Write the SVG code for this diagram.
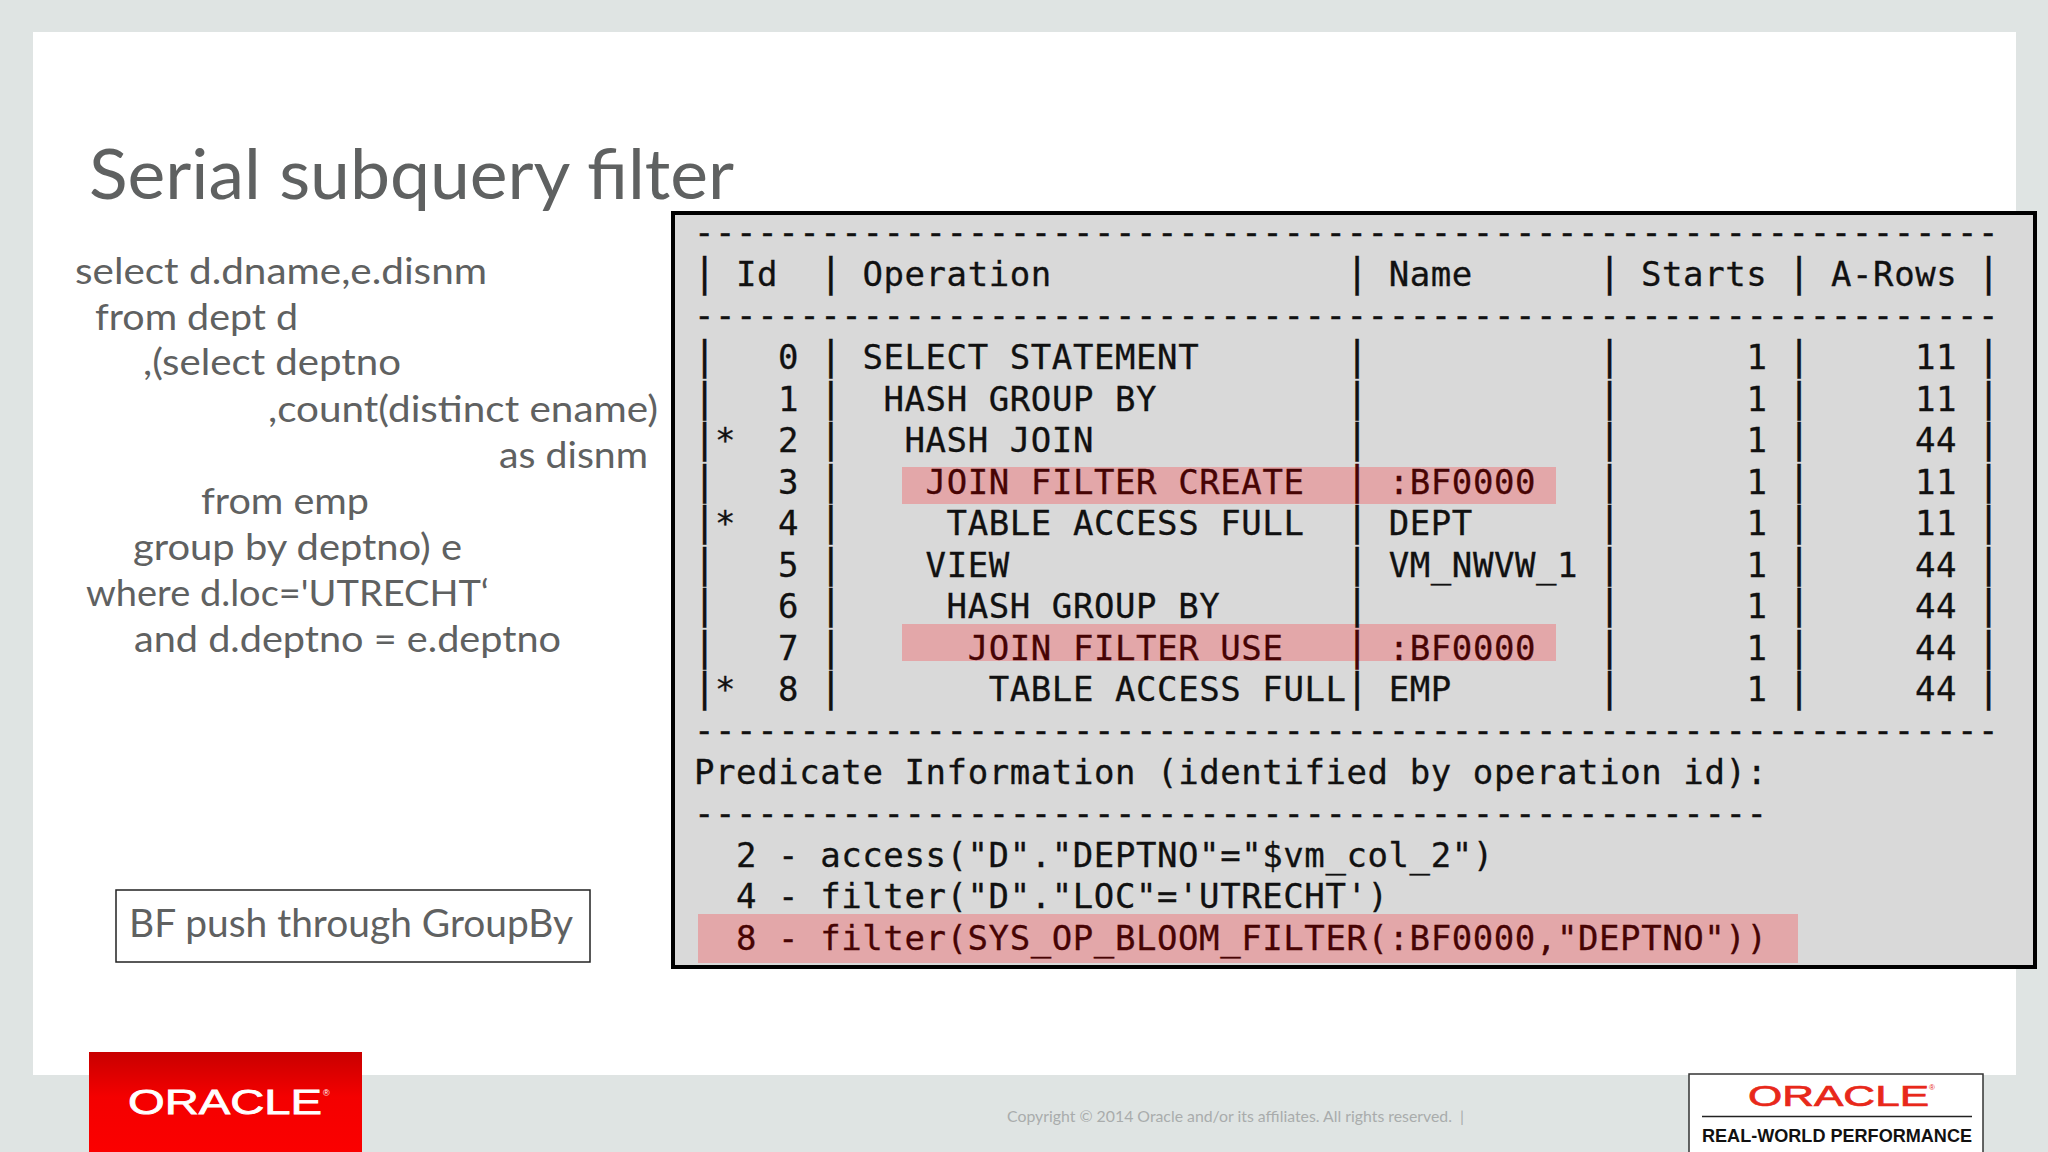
<svg xmlns="http://www.w3.org/2000/svg" width="2048" height="1152" viewBox="0 0 2048 1152">
<style>
.l{font-family:Lato,"Open Sans",sans-serif;fill:#5f6161;font-size:37px;white-space:pre}
.m{font-family:"DejaVu Sans Mono",monospace;font-size:34px;letter-spacing:.58px;fill:#111;stroke:#111;stroke-width:.3px;white-space:pre}
.p{font-size:38.5px;letter-spacing:0}
.h{fill:#e3a7a9}
.r{fill:#470404;stroke:#470404}
</style>
<defs><linearGradient id="red" x1="0" y1="0" x2="0" y2="1"><stop offset="0" stop-color="#c80000"/><stop offset=".45" stop-color="#f40000"/><stop offset="1" stop-color="#fb0000"/></linearGradient></defs>
<rect width="2048" height="1152" fill="#dfe4e3"/>
<rect x="33" y="32" width="1983" height="1043" fill="#fff"/>
<text class="l" x="89" y="199" style="font-size:70px" textLength="645" lengthAdjust="spacingAndGlyphs">Serial subquery filter</text>
<g id="sql">
<text class="l" x="75" y="284" textLength="412" lengthAdjust="spacingAndGlyphs">select d.dname,e.disnm</text>
<text class="l" x="95" y="330" textLength="203" lengthAdjust="spacingAndGlyphs">from dept d</text>
<text class="l" x="143" y="375" textLength="258" lengthAdjust="spacingAndGlyphs">,(select deptno</text>
<text class="l" x="268" y="422" textLength="390" lengthAdjust="spacingAndGlyphs">,count(distinct ename)</text>
<text class="l" x="499" y="468" textLength="149" lengthAdjust="spacingAndGlyphs">as disnm</text>
<text class="l" x="201" y="514" textLength="168" lengthAdjust="spacingAndGlyphs">from emp</text>
<text class="l" x="133" y="560" textLength="329" lengthAdjust="spacingAndGlyphs">group by deptno) e</text>
<text class="l" x="86" y="606" textLength="403" lengthAdjust="spacingAndGlyphs">where d.loc='UTRECHT‘</text>
<text class="l" x="134" y="652" textLength="427" lengthAdjust="spacingAndGlyphs">and d.deptno = e.deptno</text>
</g>
<g id="bf-note">
<rect x="116" y="890" width="474" height="72" fill="#fff" stroke="#222" stroke-width="1.5"/>
<text class="l" x="129" y="937" style="font-size:38px" textLength="444" lengthAdjust="spacingAndGlyphs">BF push through GroupBy</text>
</g>
<g id="plan">
<rect x="673" y="213" width="1362" height="754" fill="#d9d9d9" stroke="#000" stroke-width="4"/>
<rect class="h" x="902" y="467" width="654" height="37"/>
<rect class="h" x="902" y="624" width="654" height="37"/>
<rect class="h" x="698" y="914" width="1100" height="49"/>
<text class="m" x="694" y="244">--------------------------------------------------------------</text>
<text class="m" x="694" y="327">--------------------------------------------------------------</text>
<text class="m" x="694" y="742">--------------------------------------------------------------</text>
<text class="m" x="694" y="825">---------------------------------------------------</text>
<text class="m" y="286"><tspan class="p" x="693">|</tspan><tspan x="736">Id</tspan><tspan class="p" x="819.2">|</tspan><tspan x="862.4">Operation</tspan><tspan class="p" x="1345.4">|</tspan><tspan x="1388.7">Name</tspan><tspan class="p" x="1598.1">|</tspan><tspan x="1641">Starts</tspan><tspan class="p" x="1787.4">|</tspan><tspan x="1831">A-Rows</tspan><tspan class="p" x="1977">|</tspan></text>
<text class="m" y="369"><tspan class="p" x="693">|</tspan><tspan x="778">0</tspan><tspan class="p" x="819.2">|</tspan><tspan x="862.4">SELECT STATEMENT</tspan><tspan class="p" x="1345.4">|</tspan><tspan class="p" x="1598.1">|</tspan><tspan x="1746.5">1</tspan><tspan class="p" x="1787.4">|</tspan><tspan x="1915">11</tspan><tspan class="p" x="1977">|</tspan></text>
<text class="m" y="410.5"><tspan class="p" x="693">|</tspan><tspan x="778">1</tspan><tspan class="p" x="819.2">|</tspan><tspan x="883.5">HASH GROUP BY</tspan><tspan class="p" x="1345.4">|</tspan><tspan class="p" x="1598.1">|</tspan><tspan x="1746.5">1</tspan><tspan class="p" x="1787.4">|</tspan><tspan x="1915">11</tspan><tspan class="p" x="1977">|</tspan></text>
<text class="m" y="452"><tspan class="p" x="693">|</tspan><tspan x="715">*</tspan><tspan x="778">2</tspan><tspan class="p" x="819.2">|</tspan><tspan x="904.5">HASH JOIN</tspan><tspan class="p" x="1345.4">|</tspan><tspan class="p" x="1598.1">|</tspan><tspan x="1746.5">1</tspan><tspan class="p" x="1787.4">|</tspan><tspan x="1915">44</tspan><tspan class="p" x="1977">|</tspan></text>
<text class="m" y="493.5"><tspan class="p" x="693">|</tspan><tspan x="778">3</tspan><tspan class="p" x="819.2">|</tspan><tspan class="r" x="925.6">JOIN FILTER CREATE</tspan><tspan class="p r" x="1345.4">|</tspan><tspan class="r" x="1388.7">:BF0000</tspan><tspan class="p" x="1598.1">|</tspan><tspan x="1746.5">1</tspan><tspan class="p" x="1787.4">|</tspan><tspan x="1915">11</tspan><tspan class="p" x="1977">|</tspan></text>
<text class="m" y="535"><tspan class="p" x="693">|</tspan><tspan x="715">*</tspan><tspan x="778">4</tspan><tspan class="p" x="819.2">|</tspan><tspan x="946.6">TABLE ACCESS FULL</tspan><tspan class="p" x="1345.4">|</tspan><tspan x="1388.7">DEPT</tspan><tspan class="p" x="1598.1">|</tspan><tspan x="1746.5">1</tspan><tspan class="p" x="1787.4">|</tspan><tspan x="1915">11</tspan><tspan class="p" x="1977">|</tspan></text>
<text class="m" y="576.5"><tspan class="p" x="693">|</tspan><tspan x="778">5</tspan><tspan class="p" x="819.2">|</tspan><tspan x="925.6">VIEW</tspan><tspan class="p" x="1345.4">|</tspan><tspan x="1388.7">VM_NWVW_1</tspan><tspan class="p" x="1598.1">|</tspan><tspan x="1746.5">1</tspan><tspan class="p" x="1787.4">|</tspan><tspan x="1915">44</tspan><tspan class="p" x="1977">|</tspan></text>
<text class="m" y="618"><tspan class="p" x="693">|</tspan><tspan x="778">6</tspan><tspan class="p" x="819.2">|</tspan><tspan x="946.6">HASH GROUP BY</tspan><tspan class="p" x="1345.4">|</tspan><tspan class="p" x="1598.1">|</tspan><tspan x="1746.5">1</tspan><tspan class="p" x="1787.4">|</tspan><tspan x="1915">44</tspan><tspan class="p" x="1977">|</tspan></text>
<text class="m" y="659.5"><tspan class="p" x="693">|</tspan><tspan x="778">7</tspan><tspan class="p" x="819.2">|</tspan><tspan class="r" x="967.7">JOIN FILTER USE</tspan><tspan class="p r" x="1345.4">|</tspan><tspan class="r" x="1388.7">:BF0000</tspan><tspan class="p" x="1598.1">|</tspan><tspan x="1746.5">1</tspan><tspan class="p" x="1787.4">|</tspan><tspan x="1915">44</tspan><tspan class="p" x="1977">|</tspan></text>
<text class="m" y="701"><tspan class="p" x="693">|</tspan><tspan x="715">*</tspan><tspan x="778">8</tspan><tspan class="p" x="819.2">|</tspan><tspan x="988.7">TABLE ACCESS FULL</tspan><tspan class="p" x="1345.4">|</tspan><tspan x="1388.7">EMP</tspan><tspan class="p" x="1598.1">|</tspan><tspan x="1746.5">1</tspan><tspan class="p" x="1787.4">|</tspan><tspan x="1915">44</tspan><tspan class="p" x="1977">|</tspan></text>
<text class="m" x="694" y="784">Predicate Information (identified by operation id):</text>
<text class="m" x="736" y="866.5">2 - access("D"."DEPTNO"="$vm_col_2")</text>
<text class="m" x="736" y="908">4 - filter("D"."LOC"='UTRECHT')</text>
<text class="m r" x="736" y="950">8 - filter(SYS_OP_BLOOM_FILTER(:BF0000,"DEPTNO"))</text>
</g>
<g id="oracle-logo">
<rect x="89" y="1052" width="273" height="100" fill="url(#red)"/>
<text x="128" y="1114" font-family="Liberation Sans,sans-serif" font-size="35" fill="#fff" stroke="#fff" stroke-width=".8" textLength="194" lengthAdjust="spacingAndGlyphs">ORACLE</text>
<text x="323" y="1096" font-family="Liberation Sans,sans-serif" font-size="9" fill="#fff">®</text>
</g>
<text x="1007" y="1122" font-family="Lato,sans-serif" font-size="16" fill="#a9acac" textLength="457" lengthAdjust="spacingAndGlyphs" style="white-space:pre">Copyright © 2014 Oracle and/or its affiliates. All rights reserved.  |</text>
<g id="rwp-logo">
<rect x="1689" y="1074" width="294" height="80" fill="#fff" stroke="#333" stroke-width="1.5"/>
<text x="1748" y="1106" font-family="Liberation Sans,sans-serif" font-size="29" fill="#e8281a" stroke="#e8281a" stroke-width=".7" textLength="181" lengthAdjust="spacingAndGlyphs">ORACLE</text>
<text x="1929" y="1090" font-family="Liberation Sans,sans-serif" font-size="8" fill="#e8281a">®</text>
<line x1="1702" y1="1116.5" x2="1972" y2="1116.5" stroke="#222" stroke-width="1.5"/>
<text x="1702" y="1142" font-family="Liberation Sans,sans-serif" font-weight="700" font-size="18" fill="#111" textLength="270" lengthAdjust="spacingAndGlyphs">REAL-WORLD PERFORMANCE</text>
</g>
</svg>
